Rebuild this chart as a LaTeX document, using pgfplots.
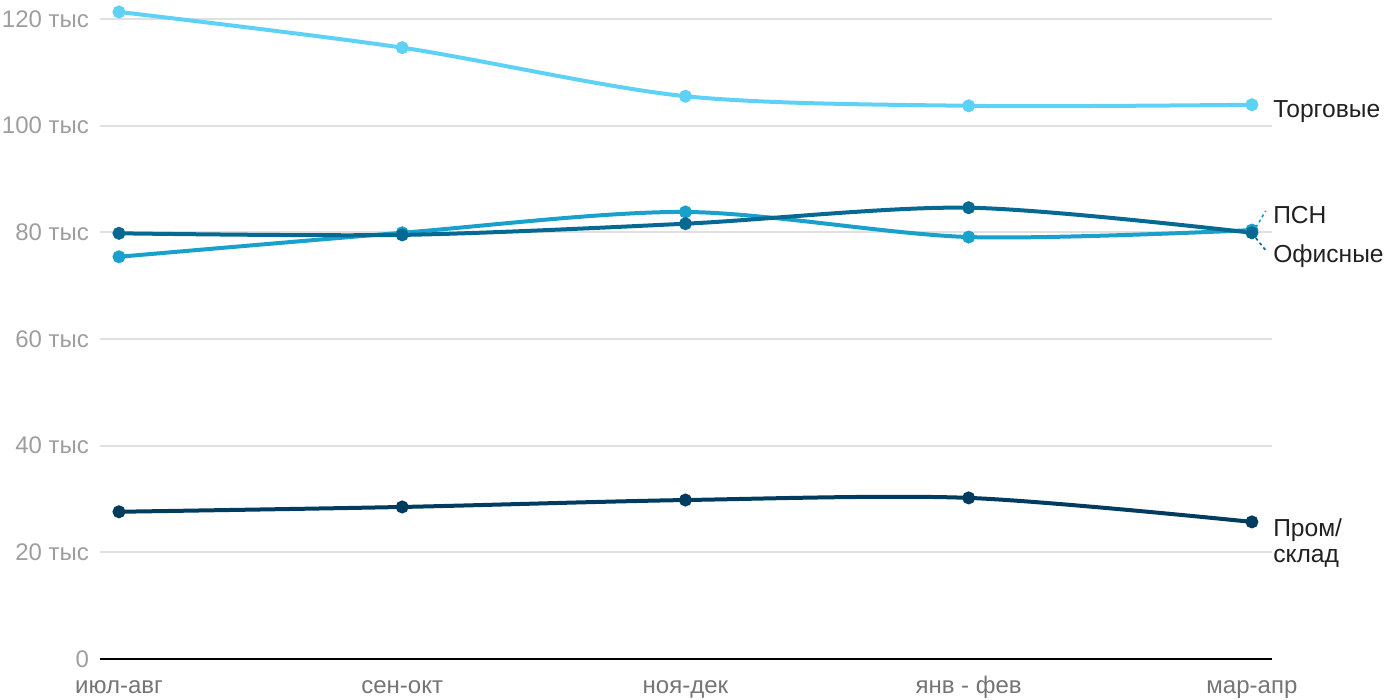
\documentclass[border=0pt]{standalone}
\usepackage{fontspec}
\setmainfont{Liberation Sans}
\usepackage{pgfplots}
\pgfplotsset{compat=1.18}
\definecolor{ctorg}{RGB}{94,210,245}
\definecolor{coff}{RGB}{25,160,204}
\definecolor{cpsn}{RGB}{6,105,145}
\definecolor{cprom}{RGB}{0,60,95}
\definecolor{gridc}{RGB}{224,224,224}
\definecolor{ytc}{RGB}{158,158,158}
\definecolor{xtc}{RGB}{117,117,117}
\definecolor{labc}{RGB}{33,33,33}
\begin{document}
\begin{tikzpicture}
\useasboundingbox (0,0) rectangle (700pt,350pt);
\begin{axis}[
  at={(50pt,20.5pt)}, anchor=south west,
  scale only axis, width=586pt, height=327pt,
  xmin=-0.067, xmax=4.071, ymin=0, ymax=122.6,
  clip=false,
  axis x line*=bottom, axis y line*=left,
  x axis line style={black, line width=1pt, -},
  y axis line style={draw=none},
  major tick length=0,
  xtick={0,1,2,3,4},
  xticklabels={июл-авг,сен-окт,ноя-дек,янв - фев,мар-апр},
  ytick={0,20,40,60,80,100,120},
  yticklabels={0,20 тыс,40 тыс,60 тыс,80 тыс,100 тыс,120 тыс},
  ymajorgrids, major grid style={gridc, line width=1pt},
  xticklabel style={font=\fontsize{12}{14}\selectfont, text=xtc, anchor=north, text height=1.6ex, text depth=0.4ex, yshift=-5.5pt},
  yticklabel style={font=\fontsize{12}{14}\selectfont, text=ytc, anchor=east, xshift=-2pt},
  every axis plot/.append style={line width=2pt, smooth, tension=0.5, mark=*, mark size=2.2pt, mark options={solid, line width=0.5pt}},
]
\addplot[ctorg, mark options={fill=ctorg, draw=ctorg}] coordinates {(0,121.3) (1,114.6) (2,105.5) (3,103.7) (4,103.9)};
\addplot[coff, mark options={fill=coff, draw=coff}] coordinates {(0,75.4) (1,79.9) (2,83.8) (3,79.1) (4,80.4)};
\addplot[cpsn, mark options={fill=cpsn, draw=cpsn}] coordinates {(0,79.8) (1,79.5) (2,81.6) (3,84.6) (4,79.9)};
\addplot[cprom, mark options={fill=cprom, draw=cprom}] coordinates {(0,27.6) (1,28.5) (2,29.8) (3,30.2) (4,25.7)};
\draw[coff, line width=0.8pt, dash pattern=on 1.5pt off 1.5pt] (axis cs:4.014,80.9) -- (axis cs:4.049,84.0);
\draw[cpsn, line width=0.8pt, dash pattern=on 1.5pt off 1.5pt] (axis cs:4.014,78.9) -- (axis cs:4.049,76.6);
\node[anchor=base west, text=labc, font=\fontsize{12.3}{13}\selectfont, inner sep=0pt] at (axis cs:4.074,101.6) {Торговые};
\node[anchor=base west, text=labc, font=\fontsize{12.3}{13}\selectfont, inner sep=0pt] at (axis cs:4.074,81.6) {ПСН};
\node[anchor=base west, text=labc, font=\fontsize{12.3}{13}\selectfont, inner sep=0pt] at (axis cs:4.074,74.4) {Офисные};
\node[anchor=base west, text=labc, font=\fontsize{12.3}{13}\selectfont, inner sep=0pt] at (axis cs:4.074,22.9) {Пром/};
\node[anchor=base west, text=labc, font=\fontsize{12.3}{13}\selectfont, inner sep=0pt] at (axis cs:4.074,18.0) {склад};
\end{axis}
\end{tikzpicture}
\end{document}
